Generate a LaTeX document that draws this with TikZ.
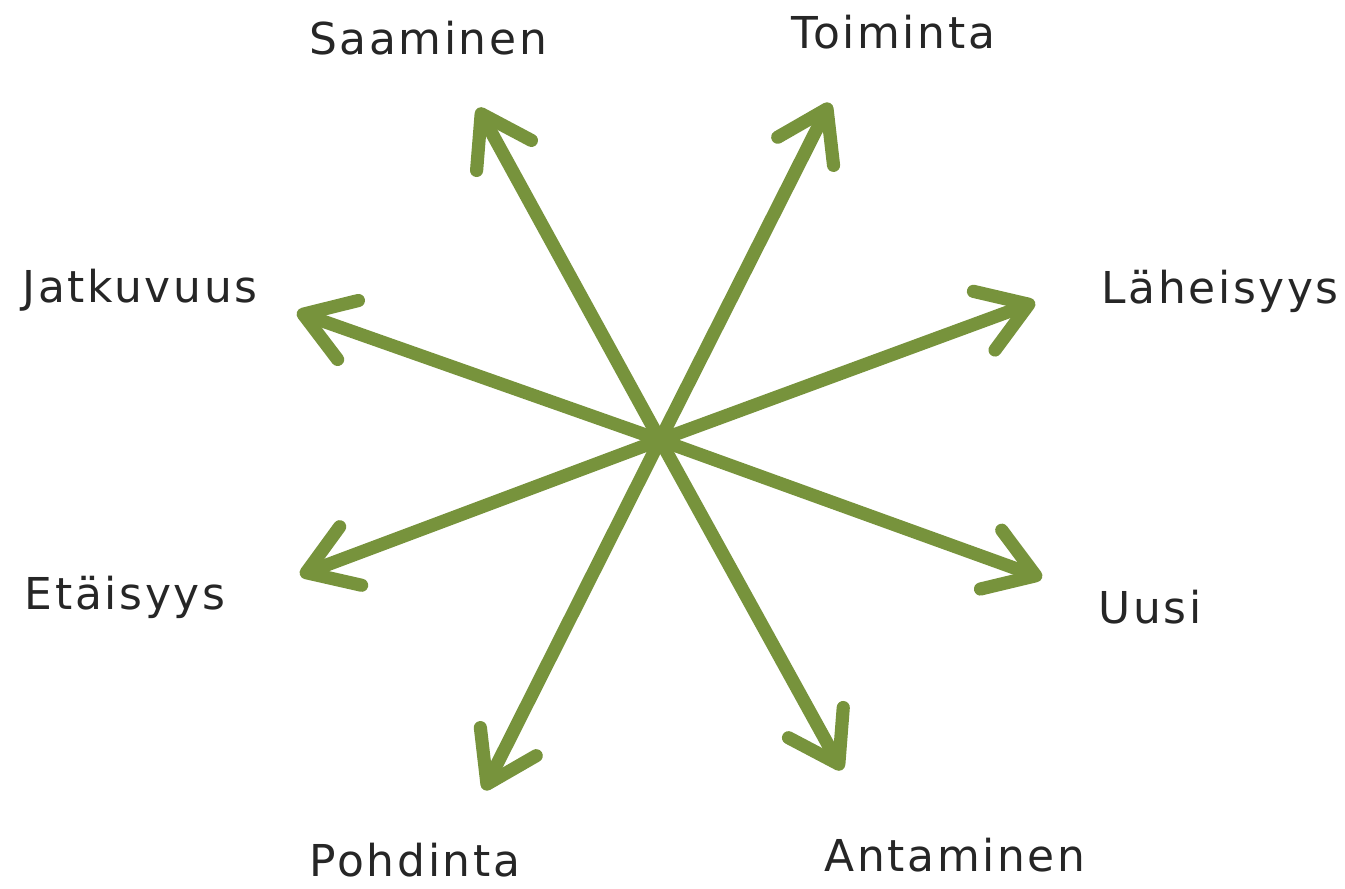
\documentclass[tikz,border=0pt]{standalone}
\usepackage{fontspec}
\setmainfont{DejaVu Sans}
\usetikzlibrary{arrows.meta}
\definecolor{olivegreen}{RGB}{119,147,60}

\begin{document}
\begin{tikzpicture}[x=1cm,y=1cm,line cap=round,line join=round]
        \useasboundingbox (0,0) rectangle (26.90,17.78);
        \tikzset{
            suunta/.style={olivegreen,line width=7.5pt,
                -{Straight Barb[length=0.95cm,width=1.25cm,line cap=round,line join=round]}},
            sana/.style={font=\fontsize{25}{30}\selectfont\addfontfeature{LetterSpace=6},
                text=black!85}
        }

        % Keskipiste
        \coordinate (K) at (13.20,8.98);

        % Nuolten kärjet
        \coordinate (tSaa) at (9.56,15.62);
        \coordinate (tToi) at (16.60,15.72);
        \coordinate (tLah) at (20.70,11.74);
        \coordinate (tUus) at (20.84,6.22);
        \coordinate (tAnt) at (16.84,2.38);
        \coordinate (tPoh) at (9.68,1.98);
        \coordinate (tEta) at (6.00,6.28);
        \coordinate (tJat) at (5.94,11.54);

        % Nuolet
        \foreach \t in {tSaa,tToi,tLah,tUus,tAnt,tPoh,tEta,tJat}
            \draw[suunta] (K) -- (\t);

        % Sanat
        \node[sana] (Saa) at (8.56,17.02) {Saaminen};
        \node[sana] (Toi) at (17.86,17.14) {Toiminta};
        \node[sana] (Jat) at (2.80,11.98) {Jatkuvuus};
        \node[sana] (Lah) at (24.40,11.96) {Läheisyys};
        \node[sana] (Eta) at (2.50,5.84) {Etäisyys};
        \node[sana] (Uus) at (23.00,5.64) {Uusi};
        \node[sana] (Poh) at (8.30,0.58) {Pohdinta};
        \node[sana] (Ant) at (19.10,0.68) {Antaminen};

    \end{tikzpicture}
\end{document}
